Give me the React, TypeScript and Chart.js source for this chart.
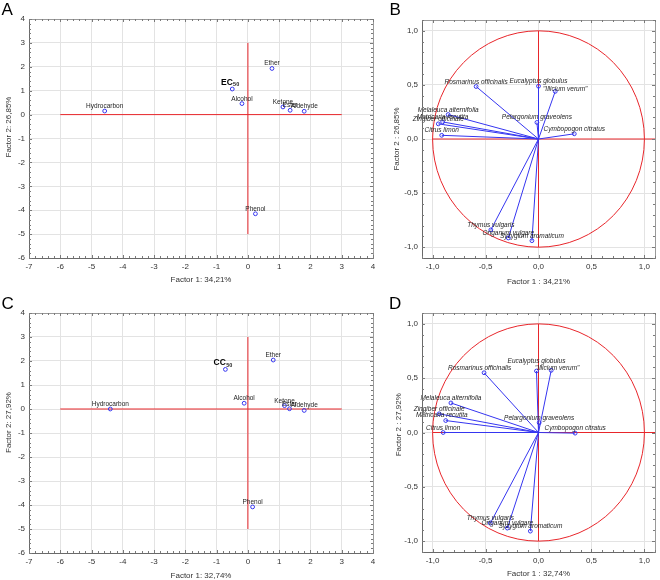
import React, { useEffect, useRef } from 'react';
import { Chart, registerables } from 'chart.js';

Chart.register(...registerables);

const FONT = '"Liberation Sans", Arial, Helvetica, sans-serif';
const RED = '#e8262b';
const BLUE = '#3535f0';
const GRID = '#e3e3e3';
const TEXT = '#333333';

// ---------- Panels A & C : chemical classes (factor scores)
const classNames = ['Hydrocarbon', 'Alcohol', 'Ether', 'Ketone', 'Ester', 'Aldehyde', 'Phenol'];
const ecFactor1 = [-4.58, -0.19, 0.77, 1.12, 1.35, 1.8, 0.24];
const ecFactor2 = [0.15, 0.46, 1.93, 0.32, 0.18, 0.14, -4.15];
const ec50Factor = [-0.5, 1.07];
const ccFactor1 = [-4.4, -0.12, 0.81, 1.17, 1.33, 1.8, 0.15];
const ccFactor2 = [0.0, 0.24, 2.04, 0.14, 0.01, -0.06, -4.08];
const cc50Factor = [-0.72, 1.65];

const scoreXTicks = [-7, -6, -5, -4, -3, -2, -1, 0, 1, 2, 3, 4];
const scoreYTicks = [-6, -5, -4, -3, -2, -1, 0, 1, 2, 3, 4];
const scoreRefH = [-6, 3];
const scoreRefV = [-5, 3];

// ---------- Panels B & D : species (factor loadings)
const speciesNames = [
  'Rosmarinus officinalis',
  'Eucalyptus globulus',
  '"Illicium verum"',
  'Melaleuca alternifolia',
  'Matricaria recutita',
  'Zingiber officinale',
  'Citrus limon',
  'Pelargonium graveolens',
  'Cymbopogon citratus',
  'Thymus vulgaris',
  'Origanum vulgare',
  'Syzygium aromaticum',
];
const bFactor1 = [-0.589, 0.0, 0.158, -0.853, -0.905, -0.946, -0.914, -0.015, 0.338, -0.45, -0.285, -0.062];
const bFactor2 = [0.485, 0.488, 0.44, 0.226, 0.158, 0.14, 0.034, 0.153, 0.048, -0.84, -0.915, -0.94];
const dFactor1 = [-0.514, -0.019, 0.12, -0.827, -0.876, -0.938, -0.9, 0.006, 0.346, -0.455, -0.294, -0.077];
const dFactor2 = [0.55, 0.566, 0.572, 0.272, 0.11, 0.172, 0.0, 0.09, -0.006, -0.835, -0.88, -0.908];

const loadingTicks = [-1, -0.5, 0, 0.5, 1];
const loadingRange = [-1.1, 1.1];
const loadingRefH = [-1, 1.1];
const loadingRefV = [-1, 1];

// label nudges (presentation only)
const bLabelDx = [0, 0, 10, 0, 0, 0, 0, 0, 0, 0, 0, 0];
const bLabelDy = [0, 0, 2.5, 0, 0, 0, 0, 0, 0, 0, 0, 0];
const dLabelDx = [-4.5, 0, 6, 0, -4, 0, 0, 0, 0, 0, 0, 0];
const dLabelDy = [0, -5.5, 2.5, 0, -1, 0, 0, 0, 0, 0, 0, 0];

type LabelItem = { ds: number; idx: number; text: string; sub?: string; dx?: number; dy?: number };

type PanelSpec = {
  key: string;
  left: number; top: number; width: number; height: number;
  padTop: number; padRight: number; yWidth: number; xHeight: number;
  xRange: number[]; yRange: number[]; xTicks: number[]; yTicks: number[];
  fmt: (v: number) => string;
  minorStep: number;
  datasets: any[];
  labels: LabelItem[];
  italic: boolean;
  circle: boolean;
  letter: string; letterPos: number[];
  xTitle: string; xTitleY: number;
  yTitle: string; yTitlePos: number[];
};

const markerStyle = {
  pointRadius: 1.9,
  pointBorderWidth: 1,
  pointBorderColor: BLUE,
  pointBackgroundColor: 'rgba(255,255,255,0)',
};

function refLines(h: number[], v: number[]) {
  return [
    { data: [{ x: h[0], y: 0 }, { x: h[1], y: 0 }], showLine: true, borderColor: RED, borderWidth: 1, pointRadius: 0 },
    { data: [{ x: 0, y: v[0] }, { x: 0, y: v[1] }], showLine: true, borderColor: RED, borderWidth: 1, pointRadius: 0 },
  ];
}

function scoreDatasets(f1: number[], f2: number[], special: number[]) {
  return [
    { data: classNames.map((_, i) => ({ x: f1[i], y: f2[i] })), showLine: false, ...markerStyle },
    { data: [{ x: special[0], y: special[1] }], showLine: false, ...markerStyle },
    ...refLines(scoreRefH, scoreRefV),
  ];
}

function scoreLabels(sub: string, main: string): LabelItem[] {
  return [
    ...classNames.map((n, i) => ({ ds: 0, idx: i, text: n })),
    { ds: 1, idx: 0, text: main, sub },
  ];
}

function loadingDatasets(f1: number[], f2: number[]) {
  return [
    ...speciesNames.map((_, i) => ({
      data: [{ x: 0, y: 0 }, { x: f1[i], y: f2[i] }],
      showLine: true,
      borderColor: BLUE,
      borderWidth: 1,
      ...markerStyle,
      pointRadius: [0, 1.9],
    })),
    ...refLines(loadingRefH, loadingRefV),
  ];
}

function loadingLabels(dx: number[], dy: number[]): LabelItem[] {
  return speciesNames.map((n, i) => ({ ds: i, idx: 1, text: n, dx: dx[i], dy: dy[i] }));
}

const fmtScore = (v: number) => String(v);
const fmtLoading = (v: number) => v.toFixed(1).replace('.', ',');

const panels: PanelSpec[] = [
  {
    key: 'A', left: 0, top: 0, width: 380, height: 290,
    padTop: 19, padRight: 7, yWidth: 29, xHeight: 32,
    xRange: [-7, 4], yRange: [-6, 4], xTicks: scoreXTicks, yTicks: scoreYTicks,
    fmt: fmtScore, minorStep: 0.2,
    datasets: scoreDatasets(ecFactor1, ecFactor2, ec50Factor),
    labels: scoreLabels('50', 'EC'), italic: false, circle: false,
    letter: 'A', letterPos: [1.5, 15],
    xTitle: 'Factor 1: 34,21%', xTitleY: 280,
    yTitle: 'Factor 2: 26,85%', yTitlePos: [9, 127],
  },
  {
    key: 'B', left: 380, top: 0, width: 280, height: 290,
    padTop: 20, padRight: 1, yWidth: 42, xHeight: 32,
    xRange: loadingRange, yRange: loadingRange, xTicks: loadingTicks, yTicks: loadingTicks,
    fmt: fmtLoading, minorStep: 0.1,
    datasets: loadingDatasets(bFactor1, bFactor2),
    labels: loadingLabels(bLabelDx, bLabelDy), italic: true, circle: true,
    letter: 'B', letterPos: [9.5, 15],
    xTitle: 'Factor 1 : 34,21%', xTitleY: 281.5,
    yTitle: 'Factor 2 : 26,85%', yTitlePos: [16.7, 139],
  },
  {
    key: 'C', left: 0, top: 290, width: 380, height: 290,
    padTop: 23, padRight: 7, yWidth: 29, xHeight: 27,
    xRange: [-7, 4], yRange: [-6, 4], xTicks: scoreXTicks, yTicks: scoreYTicks,
    fmt: fmtScore, minorStep: 0.2,
    datasets: scoreDatasets(ccFactor1, ccFactor2, cc50Factor),
    labels: scoreLabels('50', 'CC'), italic: false, circle: false,
    letter: 'C', letterPos: [1.5, 18.5],
    xTitle: 'Factor 1: 32,74%', xTitleY: 285.5,
    yTitle: 'Factor 2: 27,92%', yTitlePos: [9, 132.5],
  },
  {
    key: 'D', left: 380, top: 290, width: 280, height: 290,
    padTop: 23, padRight: 1, yWidth: 42, xHeight: 28,
    xRange: loadingRange, yRange: loadingRange, xTicks: loadingTicks, yTicks: loadingTicks,
    fmt: fmtLoading, minorStep: 0.1,
    datasets: loadingDatasets(dFactor1, dFactor2),
    labels: loadingLabels(dLabelDx, dLabelDy), italic: true, circle: true,
    letter: 'D', letterPos: [9, 19.3],
    xTitle: 'Factor 1 : 32,74%', xTitleY: 283.5,
    yTitle: 'Factor 2 : 27,92%', yTitlePos: [18.3, 134.7],
  },
];

function decorPlugin(spec: PanelSpec) {
  return {
    id: 'decor' + spec.key,
    beforeDatasetsDraw(chart: any) {
      if (!spec.circle) return;
      const { ctx, chartArea } = chart;
      const xs = chart.scales.x;
      const ys = chart.scales.y;
      const cx = xs.getPixelForValue(0);
      const cy = ys.getPixelForValue(0);
      const rx = xs.getPixelForValue(1) - cx;
      const ry = cy - ys.getPixelForValue(1);
      ctx.save();
      ctx.beginPath();
      ctx.rect(chartArea.left, chartArea.top, chartArea.right - chartArea.left, chartArea.bottom - chartArea.top);
      ctx.clip();
      ctx.beginPath();
      ctx.ellipse(cx, cy, rx, ry, 0, 0, Math.PI * 2);
      ctx.strokeStyle = RED;
      ctx.lineWidth = 1;
      ctx.stroke();
      ctx.restore();
    },
    afterDatasetsDraw(chart: any) {
      const { ctx } = chart;
      ctx.save();
      ctx.fillStyle = '#1e1e1e';
      for (const lb of spec.labels) {
        const el = chart.getDatasetMeta(lb.ds).data[lb.idx];
        if (!el) continue;
        const px = el.x + (lb.dx || 0);
        const py = el.y;
        if (lb.sub) {
          ctx.font = `bold 8.5px ${FONT}`;
          ctx.textAlign = 'right';
          ctx.textBaseline = 'alphabetic';
          ctx.fillStyle = '#000';
          ctx.fillText(lb.text, px + 0.5, py - 4);
          ctx.font = `bold 5.5px ${FONT}`;
          ctx.textAlign = 'left';
          ctx.fillStyle = '#222';
          ctx.fillText(lb.sub, px + 0.8, py - 2.8);
          ctx.fillStyle = '#1e1e1e';
        } else {
          ctx.font = `${spec.italic ? 'italic ' : ''}6.5px ${FONT}`;
          ctx.textAlign = 'center';
          ctx.textBaseline = 'alphabetic';
          ctx.fillText(lb.text, px, py - 3 + (lb.dy || 0));
        }
      }
      ctx.restore();
    },
    afterDraw(chart: any) {
      const { ctx, chartArea } = chart;
      const { left, right, top, bottom } = chartArea;
      const xs = chart.scales.x;
      const ys = chart.scales.y;
      ctx.save();
      // frame
      ctx.lineWidth = 1;
      ctx.strokeStyle = '#9a9a9a';
      ctx.strokeRect(Math.round(left) + 0.5, Math.round(top) + 0.5, Math.round(right - left), Math.round(bottom - top));
      ctx.strokeStyle = '#6a6a6a';
      ctx.beginPath();
      ctx.moveTo(Math.round(left) + 0.5, Math.round(top));
      ctx.lineTo(Math.round(left) + 0.5, Math.round(bottom) + 0.5);
      ctx.lineTo(Math.round(right) + 0.5, Math.round(bottom) + 0.5);
      ctx.stroke();
      // minor / major ticks, inside the frame
      ctx.strokeStyle = '#7a7a7a';
      ctx.beginPath();
      const stepsX = Math.round((spec.xRange[1] - spec.xRange[0]) / spec.minorStep);
      for (let k = 0; k <= stepsX; k++) {
        const v = spec.xRange[0] + k * spec.minorStep;
        const major = spec.xTicks.some((t) => Math.abs(t - v) < 1e-6);
        const len = major ? 3 : 2;
        const p = Math.round(xs.getPixelForValue(v)) + 0.5;
        ctx.moveTo(p, bottom);
        ctx.lineTo(p, bottom - len);
        ctx.moveTo(p, top);
        ctx.lineTo(p, top + len);
      }
      const stepsY = Math.round((spec.yRange[1] - spec.yRange[0]) / spec.minorStep);
      for (let k = 0; k <= stepsY; k++) {
        const v = spec.yRange[0] + k * spec.minorStep;
        const major = spec.yTicks.some((t) => Math.abs(t - v) < 1e-6);
        const len = major ? 3 : 2;
        const p = Math.round(ys.getPixelForValue(v)) + 0.5;
        ctx.moveTo(left, p);
        ctx.lineTo(left + len, p);
        ctx.moveTo(right, p);
        ctx.lineTo(right - len, p);
      }
      ctx.stroke();
      // axis titles
      ctx.fillStyle = TEXT;
      ctx.font = `8px ${FONT}`;
      ctx.textAlign = 'center';
      ctx.textBaseline = 'middle';
      ctx.fillText(spec.xTitle, (left + right) / 2, spec.xTitleY);
      ctx.save();
      ctx.translate(spec.yTitlePos[0], spec.yTitlePos[1]);
      ctx.rotate(-Math.PI / 2);
      ctx.fillText(spec.yTitle, 0, 0);
      ctx.restore();
      // panel letter
      ctx.fillStyle = '#000';
      ctx.font = `17px ${FONT}`;
      ctx.textAlign = 'left';
      ctx.textBaseline = 'alphabetic';
      ctx.fillText(spec.letter, spec.letterPos[0], spec.letterPos[1]);
      ctx.restore();
    },
  };
}

function buildConfig(spec: PanelSpec): any {
  const tickFont = { family: FONT, size: 8 };
  return {
    type: 'scatter',
    data: { datasets: spec.datasets },
    options: {
      responsive: false,
      animation: false,
      devicePixelRatio: 1,
      events: [],
      layout: { padding: { top: spec.padTop, right: spec.padRight, left: 0, bottom: 0 } },
      plugins: { legend: { display: false }, tooltip: { enabled: false } },
      scales: {
        x: {
          type: 'linear',
          position: 'bottom',
          min: spec.xRange[0],
          max: spec.xRange[1],
          afterBuildTicks: (s: any) => {
            s.ticks = spec.xTicks.map((v) => ({ value: v }));
          },
          afterFit: (s: any) => {
            s.height = spec.xHeight;
            s.paddingLeft = 0;
            s.paddingRight = 0;
          },
          ticks: {
            font: tickFont,
            color: TEXT,
            padding: 4,
            maxRotation: 0,
            autoSkip: false,
            callback: (v: number) => spec.fmt(v),
          },
          grid: { color: GRID, drawTicks: false, lineWidth: 1 },
          border: { display: false },
        },
        y: {
          type: 'linear',
          position: 'left',
          min: spec.yRange[0],
          max: spec.yRange[1],
          afterBuildTicks: (s: any) => {
            s.ticks = spec.yTicks.map((v) => ({ value: v }));
          },
          afterFit: (s: any) => {
            s.width = spec.yWidth;
            s.paddingTop = 0;
            s.paddingBottom = 0;
          },
          ticks: {
            font: tickFont,
            color: TEXT,
            padding: 4,
            autoSkip: false,
            callback: (v: number) => spec.fmt(v),
          },
          grid: { color: GRID, drawTicks: false, lineWidth: 1 },
          border: { display: false },
        },
      },
    },
    plugins: [decorPlugin(spec)],
  };
}

function Panel({ spec }: { spec: PanelSpec }) {
  const ref = useRef<HTMLCanvasElement>(null);
  useEffect(() => {
    if (!ref.current) return;
    const chart = new Chart(ref.current, buildConfig(spec));
    return () => chart.destroy();
  }, [spec]);
  return (
    <canvas
      ref={ref}
      width={spec.width}
      height={spec.height}
      style={{ position: 'absolute', left: spec.left, top: spec.top, width: spec.width, height: spec.height }}
    />
  );
}

export default function App() {
  return (
    <div style={{ position: 'absolute', left: 0, top: 0, width: 660, height: 580, background: '#fff' }}>
      {panels.map((p) => (
        <Panel key={p.key} spec={p} />
      ))}
    </div>
  );
}
